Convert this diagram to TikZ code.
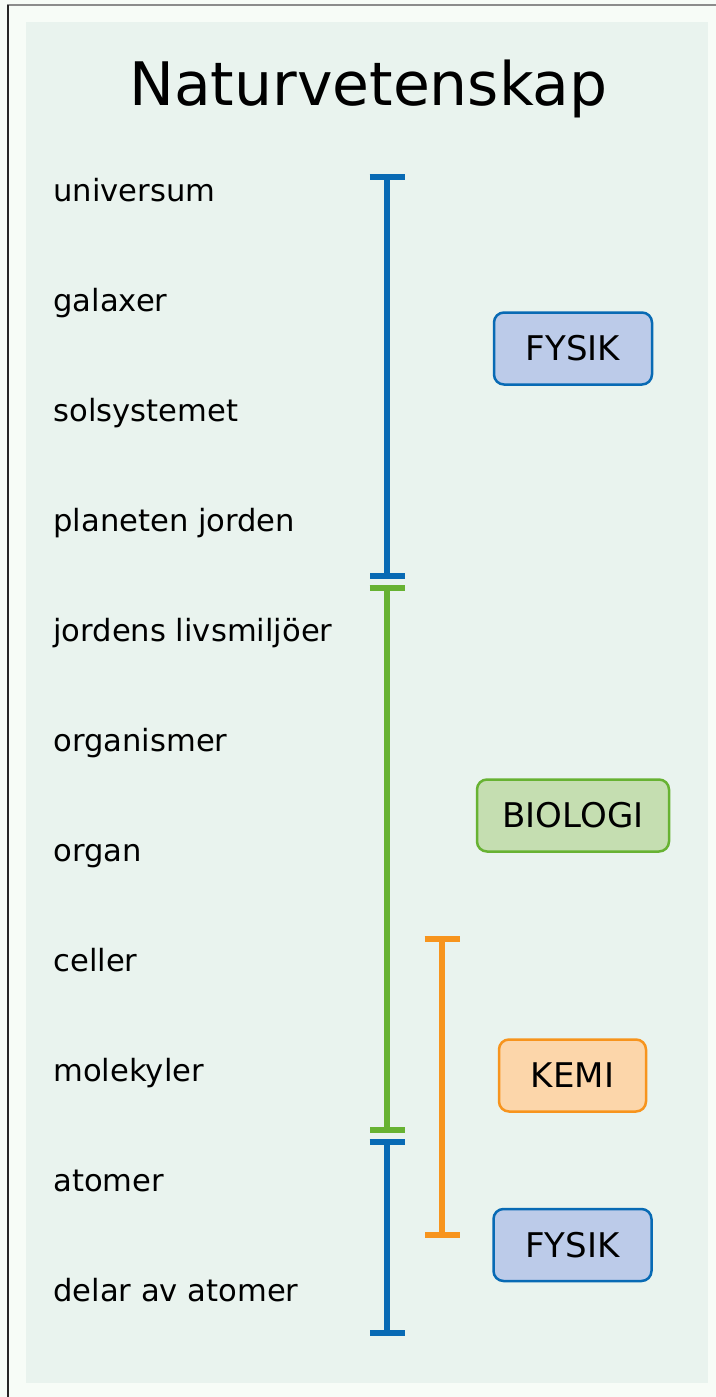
\documentclass[tikz,border=0pt]{standalone}
\usepackage{fontspec}
\setmainfont{DejaVu Sans}
\usetikzlibrary{arrows.meta,positioning}

\definecolor{fysblue}{RGB}{8,106,180}
\definecolor{biogreen}{RGB}{103,178,50}
\definecolor{kemorange}{RGB}{247,148,29}
\definecolor{fysfill}{RGB}{188,203,233}
\definecolor{biofill}{RGB}{197,222,177}
\definecolor{kemfill}{RGB}{252,214,170}
\definecolor{panel}{RGB}{233,243,238}
\definecolor{paper}{RGB}{247,252,247}

\begin{document}
\begin{tikzpicture}[
  x=0.5pt, y=-0.5pt,
  item/.style={font=\fontsize{15.3}{18}\selectfont, inner sep=0pt, text height=11pt, text depth=3.5pt},
  subject/.style={rectangle, rounded corners=5pt, draw, line width=1.25pt, minimum height=36pt, inner xsep=6pt, font=\fontsize{17}{20}\selectfont},
  span/.style={line width=2.75pt, {Bar[width=17.5pt,line width=3pt]}-{Bar[width=17.5pt,line width=3pt]}},
]
  \useasboundingbox (0,0) rectangle (716,1397);
  \fill[paper] (0,0) rectangle (716,1397);
  \fill[panel] (26,22) rectangle (708,1383);
  \draw[gray!90, line width=1pt] (8,1397) -- (8,4.5) -- (716,4.5);
  \draw[black!85, line width=0.75pt] (8,1397) -- (8,4.5);

  \node[anchor=base, font=\fontsize{30}{36}\selectfont] (title) at (368.5,105) {Naturvetenskap};

  % levels, top to bottom
  \node[item, anchor=west] (uni) at (53,193.5) {universum};
  \node[item, below=55pt of uni.west, anchor=west] (gal) {galaxer};
  \node[item, below=55pt of gal.west, anchor=west] (sol) {solsystemet};
  \node[item, below=55pt of sol.west, anchor=west] (pla) {planeten jorden};
  \node[item, below=55pt of pla.west, anchor=west] (liv) {jordens livsmiljöer};
  \node[item, below=55pt of liv.west, anchor=west] (orgs) {organismer};
  \node[item, below=55pt of orgs.west, anchor=west] (organ) {organ};
  \node[item, below=55pt of organ.west, anchor=west] (cel) {celler};
  \node[item, below=55pt of cel.west, anchor=west] (mol) {molekyler};
  \node[item, below=55pt of mol.west, anchor=west] (atom) {atomer};
  \node[item, below=55pt of atom.west, anchor=west] (del) {delar av atomer};

  % subjects
  \node[subject, draw=fysblue, fill=fysfill, minimum width=79pt] (fys1) at (573,348.5) {FYSIK};
  \node[subject, draw=biogreen, fill=biofill, minimum width=96pt] (bio) at (573,815.5) {BIOLOGI};
  \node[subject, draw=kemorange, fill=kemfill, minimum width=73.5pt] (kem) at (572.5,1075.5) {KEMI};
  \node[subject, draw=fysblue, fill=fysfill, minimum width=79pt] (fys2) at (572.5,1245) {FYSIK};

  \coordinate (fys1top) at (387,174);
  \coordinate (fys1bot) at (387,579);
  \coordinate (biotop) at (387,585);
  \coordinate (biobot) at (387,1133);
  \coordinate (fys2top) at (387,1139);
  \coordinate (fys2bot) at (387,1336);
  \coordinate (kemtop) at (442,936);
  \coordinate (kembot) at (442,1238);

  \draw[span, fysblue] (fys1top) -- (fys1bot);
  \draw[span, biogreen] (biotop) -- (biobot);
  \draw[span, fysblue] (fys2top) -- (fys2bot);
  \draw[span, kemorange] (kemtop) -- (kembot);
\end{tikzpicture}
\end{document}
